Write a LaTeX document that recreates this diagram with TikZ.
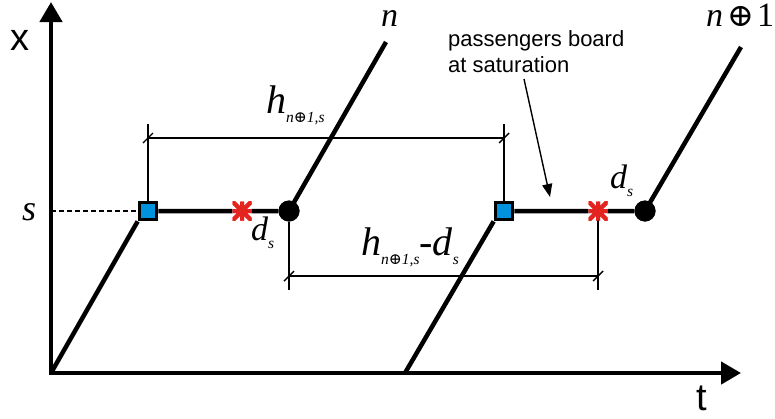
\documentclass[tikz,border=0pt]{standalone}
\usepackage{fontspec}
\setmainfont{Liberation Sans}
\newfontfamily\serifit{Liberation Serif}[UprightFont=* Italic]
\newfontfamily\serifup{Liberation Serif}
\newfontfamily\opfont{DejaVu Serif}
\usetikzlibrary{arrows.meta}
\definecolor{sqblue}{RGB}{0,146,221}
\definecolor{starred}{RGB}{228,36,30}
\tikzset{
  axisline/.style={line width=4.5pt, -{Triangle[length=20pt,width=22pt]}},
  traj/.style={line width=4.5pt},
  dimline/.style={line width=1.4pt},
  sqmark/.style={rectangle, draw=black, line width=3.2pt, fill=sqblue, minimum size=17.5pt, inner sep=0pt},
  dotmark/.style={circle, fill=black, minimum size=21pt, inner sep=0pt},
  starmark/.style={rectangle, minimum size=19pt, inner sep=0pt,
    path picture={\draw[starred, line width=4pt]
      (path picture bounding box.north) -- (path picture bounding box.south)
      (path picture bounding box.west) -- (path picture bounding box.east)
      (path picture bounding box.north west) -- (path picture bounding box.south east)
      (path picture bounding box.north east) -- (path picture bounding box.south west);}},
  axlabel/.style={font=\fontsize{38}{40}\selectfont, inner sep=0pt},
  mlabel/.style={font=\fontsize{40}{42}\serifit, inner sep=0pt, anchor=base west},
  dlabel/.style={font=\fontsize{34}{36}\serifit, inner sep=0pt, anchor=base west},
  tick/.style={line width=1.4pt},
}
\newcommand{\sub}[2][9pt]{\raisebox{-#1}{\fontsize{15.5}{17}\selectfont #2}}
\newcommand{\opl}{{\opfont ⊕}}
\begin{document}
\begin{tikzpicture}[x=1pt,y=-1pt]
\useasboundingbox (0,0) rectangle (775,418);
% axes
\coordinate (O1) at (51,373);
\coordinate (Ytop) at (51,2);
\coordinate (Xend) at (741,373);
\draw[axisline] (51,375.2) -- (Ytop);
\draw[axisline] (48.8,373) -- (Xend);
\node[axlabel] (xl) at (20,40) {x};
\node[axlabel] (tl) at (702,398) {t};
% marks
\node[sqmark] (sq1) at (148,211) {};
\node[dotmark] (c1) at (289,211) {};
\node[starmark] (st1) at (242,211) {};
\node[sqmark] (sq2) at (504,211) {};
\node[dotmark] (c2) at (645,211) {};
\node[starmark] (st2) at (598,211) {};
\coordinate (O2) at (405,373);
\coordinate (E1) at (386,42);
\coordinate (E2) at (741,47);
% s level dashed
\coordinate (Ys) at (51,211);
\draw[dimline, dash pattern=on 5pt off 3pt] (Ys) -- (sq1.west);
\node[dlabel, font=\fontsize{36}{38}\serifit] (sl) at (22,220) {s};
% dimension h
\coordinate (h1) at (148,124);
\coordinate (h2) at (504,124);
\coordinate (ha) at (148,138);
\coordinate (hb) at (504,138);
\draw[dimline] (sq1.north) -- (h1);
\draw[dimline] (sq2.north) -- (h2);
\draw[dimline] (ha) -- (hb);
\draw[tick] ([shift={(-5,5)}]ha) -- ([shift={(5,-5)}]ha);
\draw[tick] ([shift={(-5,5)}]hb) -- ([shift={(5,-5)}]hb);
\node[mlabel] (hl) at (266,113) {h\sub{n\opl1,s}};
% dimension h - d
\coordinate (g1) at (289,290);
\coordinate (g2) at (598,290);
\coordinate (ga) at (289,276);
\coordinate (gb) at (598,276);
\draw[dimline] (c1.south) -- (g1);
\draw[dimline] (st2.center) -- (g2);
\draw[dimline] (ga) -- (gb);
\draw[tick] ([shift={(-5,5)}]ga) -- ([shift={(5,-5)}]ga);
\draw[tick] ([shift={(-5,5)}]gb) -- ([shift={(5,-5)}]gb);
\node[mlabel] (gl) at (361,255) {h\sub{n\opl1,s}-d\sub{s}};
% trajectories
\draw[traj] (O1) -- (sq1.south west) (sq1.east) -- (st1.west) (st1.east) -- (c1.west);
\draw[traj] (c1.center) -- (E1);
\draw[traj] (O2) -- (sq2.south west) (sq2.east) -- (st2.west) (st2.east) -- (c2.west);
\draw[traj] (c2.center) -- (E2);
\node[sqmark] at (sq1) {};
\node[sqmark] at (sq2) {};
\node[starmark] at (st1) {};
\node[starmark] at (st2) {};
\node[dotmark] at (c1) {};
\node[dotmark] at (c2) {};
% d labels
\node[dlabel] (d1) at (251,240) {d\sub[8pt]{s}};
\node[dlabel] (d2) at (610,188) {d\sub[8pt]{s}};
% trajectory labels
\node[dlabel] (nl) at (381,26) {n};
\node[dlabel] (n1l) at (706,26) {n\kern4pt{\fontsize{32}{34}\opfont ⊕}\kern3pt{\serifup 1}};
% annotation
\node[font=\fontsize{22}{26}\selectfont, align=left, anchor=north west, inner sep=0pt] (ann) at (448,30) {passengers board\\at saturation};
\coordinate (annA) at (524,79);
\coordinate (annB) at (550,197);
\draw[line width=1.4pt, -{Triangle[length=13pt,width=10pt]}] (annA) -- (annB);
\end{tikzpicture}
\end{document}
